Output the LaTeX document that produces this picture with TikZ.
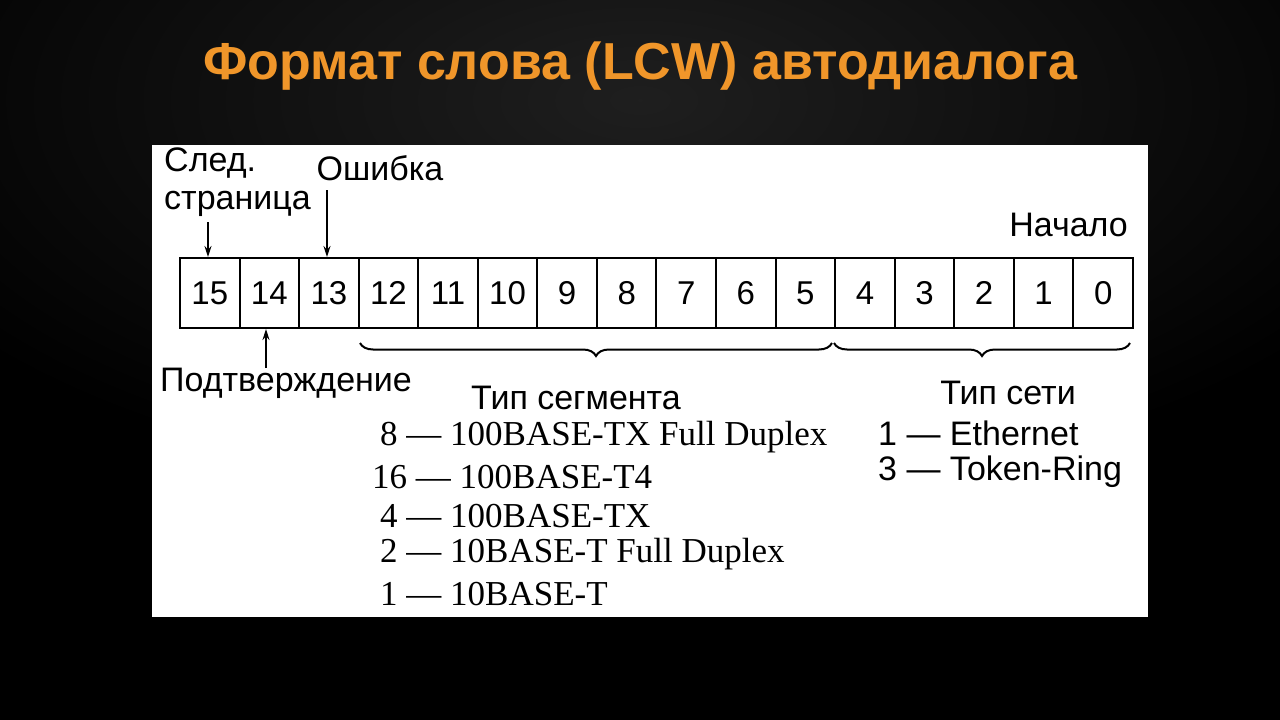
\documentclass[tikz,border=0pt]{standalone}
\usepackage{fontspec}
\setmainfont{Liberation Serif}
\newfontfamily\sans{Liberation Sans}
\usetikzlibrary{decorations.pathreplacing,arrows.meta,shadings}
\definecolor{ttl}{HTML}{F0962A}
\tikzset{
  lab/.style={font=\sans\fontsize{34}{38}\selectfont,inner sep=0pt},
  ser/.style={font=\fontsize{35}{36}\selectfont,inner sep=0pt,anchor=west},
  cell/.style={draw,line width=2pt,minimum width=59.56pt,minimum height=70pt,inner sep=0pt,font=\sans\fontsize{33}{34}\selectfont},
  arr/.style={-{Stealth[length=11pt,width=7pt]},line width=1.5pt},
  br/.style={decorate,decoration={brace,mirror,amplitude=13pt},line width=2pt}
}
\begin{document}
\begin{tikzpicture}[x=1pt,y=-1pt]
\useasboundingbox (0,0) rectangle (1280,720);
\fill[black] (0,0) rectangle (1280,720);
\shade[inner color=black!70!white!40!black,outer color=black] (-200,-300) rectangle (1480,500);
\node[font=\sans\bfseries\fontsize{52}{54}\selectfont,text=ttl] (title) at (640,66) {Формат слова (LCW) автодиалога};
\fill[white] (152,145) rectangle (1148,617);
\foreach \i in {0,...,15}{
  \pgfmathtruncatemacro{\n}{15-\i}
  \node[cell] (c\n) at ({180+59.56*\i+29.78},293) {\n};
}
\node[lab,anchor=north west,align=left] (next) at (164,148) {След.\\страница};
\node[lab] (err) at (380,168) {Ошибка};
\node[lab,anchor=east] (start) at (1128,225) {Начало};
\node[lab,anchor=west] (ack) at (160,383) {Подтверждение};
\coordinate (a1) at (208,222);
\coordinate (a2) at (327,190);
\coordinate (a3) at (266,368);
\draw[arr] (a1) -- (a1 |- c15.north);
\draw[arr] (a2) -- (a2 |- c13.north);
\draw[arr] (a3) -- (a3 |- c14.south);
\draw[br] (360,343) -- (832,343);
\draw[br] (834,343) -- (1130,343);
\node[lab] (seg) at (576,398) {Тип сегмента};
\node[lab] (net) at (1008,393) {Тип сети};
\node[ser] at (380,437) {8 — 100BASE-TX Full Duplex};
\node[ser] at (372,477) {16 — 100BASE-T4};
\node[ser] at (380,516) {4 — 100BASE-TX};
\node[ser] at (380,554) {2 — 10BASE-T Full Duplex};
\node[ser] at (380,594) {1 — 10BASE-T};
\node[lab,anchor=west] at (878,433) {1 — Ethernet};
\node[lab,anchor=west] at (878,472) {3 — Token-Ring};
\end{tikzpicture}
\end{document}
